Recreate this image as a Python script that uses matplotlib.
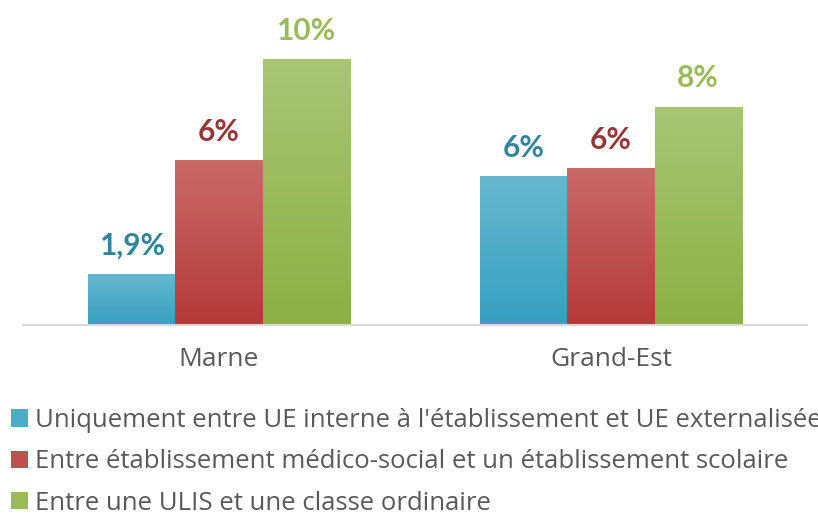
import matplotlib
matplotlib.use("Agg")
import matplotlib.pyplot as plt
import numpy as np
from matplotlib.colors import LinearSegmentedColormap
from matplotlib.patches import Patch

plt.rcParams["font.family"] = ["Lato", "DejaVu Sans"]

# data
categories = ["Marne", "Grand-Est"]
series = [
    "Uniquement entre UE interne à l'établissement et UE externalisée",
    "Entre établissement médico-social et un établissement scolaire",
    "Entre une ULIS et une classe ordinaire",
]
values = [
    [1.9, 5.6],
    [6.2, 5.9],
    [10.0, 8.2],
]
labels = [
    ["1,9%", "6%"],
    ["6%", "6%"],
    ["10%", "8%"],
]

# styles: (top colour, bottom colour, label colour)
tops = ["#66B7CE", "#C96A68", "#A9C674"]
bottoms = ["#36A0C1", "#B43A37", "#8CB043"]
label_cols = ["#31849B", "#953735", "#9BBB59"]

W, H = 818, 517
fig = plt.figure(figsize=(W / 100, H / 100), dpi=100)
ax = fig.add_axes([23 / W, (H - 325) / H, 784 / W, 292.6 / H])

x = np.arange(len(categories))
bw = 0.222
grad = np.linspace(1, 0, 256).reshape(-1, 1)
for i, (vals, labs) in enumerate(zip(values, labels)):
    xs = x + (i - 1) * bw
    bars = ax.bar(xs, vals, width=bw, color="none", edgecolor="none")
    cmap = LinearSegmentedColormap.from_list(f"g{i}", [bottoms[i], tops[i]])
    for b, lab in zip(bars, labs):
        x0, w, h = b.get_x(), b.get_width(), b.get_height()
        im = ax.imshow(grad, cmap=cmap, aspect="auto", extent=[x0, x0 + w, 0, h],
                       vmin=0, vmax=1, zorder=2)
        im.set_clip_path(b)
        ax.annotate(lab, (x0 + w / 2, h), xytext=(0, 14), textcoords="offset points",
                    ha="center", va="baseline", fontsize=21.5, fontweight="bold",
                    color=label_cols[i], annotation_clip=False)

ax.set_xlim(-0.5, 1.5)
ax.set_ylim(0, 11)
for s in ["top", "right", "left"]:
    ax.spines[s].set_visible(False)
ax.spines["bottom"].set_color("#D9D9D9")
ax.spines["bottom"].set_linewidth(1.5)
ax.set_yticks([])
ax.set_xticks(x)
ax.set_xticklabels(categories, fontsize=19, color="#595959", family="Open Sans")
ax.tick_params(axis="x", length=0, pad=16)

handles = [Patch(facecolor=c, edgecolor="none") for c in ["#4AAEC9", "#C0504D", "#9BBB59"]]
fig.legend(handles, series, loc="upper left", bbox_to_anchor=(11 / W, 1 - 408 / H),
           frameon=False, prop={"family": "Open Sans", "size": 18.5},
           labelcolor="#595959", handlelength=0.65, handleheight=0.65,
           handletextpad=0.3, labelspacing=0.64, borderaxespad=0, borderpad=0)

fig.savefig("out.png", dpi=100)
